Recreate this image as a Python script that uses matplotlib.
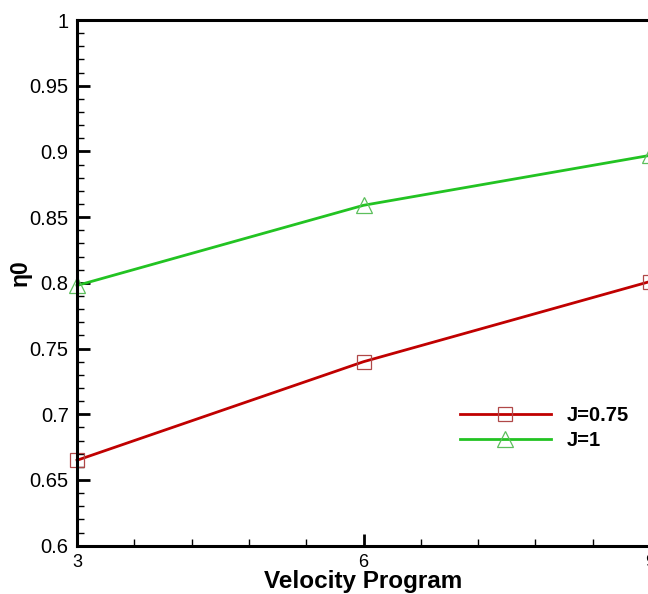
import matplotlib
matplotlib.use('Agg')
import matplotlib.pyplot as plt
from matplotlib.ticker import MultipleLocator, FixedLocator

plt.rcParams['font.family'] = ['Liberation Sans', 'DejaVu Sans']

# data
velocity_program = [3, 6, 9]
eta_j075 = [0.665, 0.740, 0.801]
eta_j1 = [0.798, 0.859, 0.897]
y_ticks = [0.6, 0.65, 0.7, 0.75, 0.8, 0.85, 0.9, 0.95, 1.0]
y_tick_labels = ['0.6', '0.65', '0.7', '0.75', '0.8', '0.85', '0.9', '0.95', '1']

W, H = 648, 594
fig = plt.figure(figsize=(W / 100, H / 100), dpi=100)

# axes box in pixels (right side runs past the image edge)
x0, x1, ytop, ybot = 77, 650, 20, 545.7
ax = fig.add_axes([x0 / W, 1 - ybot / H, (x1 - x0) / W, (ybot - ytop) / H])

ax.plot(velocity_program, eta_j075, color='#c00000', lw=2.0,
        marker='s', ms=10, mfc='none', mec='#b04848', mew=0.9,
        label='J=0.75', clip_on=False)
ax.plot(velocity_program, eta_j1, color='#22c322', lw=2.0,
        marker='^', ms=11, mfc='none', mec='#5cbf5c', mew=0.9,
        label='J=1', clip_on=False)

ax.set_xlim(3, 9)
ax.set_ylim(0.6, 1.0)
ax.xaxis.set_major_locator(FixedLocator(velocity_program))
ax.xaxis.set_minor_locator(MultipleLocator(0.6))
ax.set_yticks(y_ticks)
ax.set_yticklabels(y_tick_labels)
ax.yaxis.set_minor_locator(MultipleLocator(0.01))

for s in ax.spines.values():
    s.set_linewidth(2.2)
ax.tick_params(which='major', direction='in', length=9, width=2.0,
               top=False, right=False)
ax.tick_params(which='minor', direction='in', length=5, width=1.0,
               top=False, right=False)
ax.tick_params(axis='y', which='major', labelsize=14.5, pad=6)
ax.tick_params(axis='x', which='major', labelsize=13, pad=6)

ax.set_xlabel('Velocity Program', fontsize=17.5, fontweight='bold')
ax.xaxis.label.set_verticalalignment('baseline')
ax.xaxis.set_label_coords((363 - x0) / (x1 - x0), -(588 - ybot) / (ybot - ytop))
ax.set_ylabel('η0', fontsize=16.5, fontweight='bold')
ax.yaxis.label.set_verticalalignment('center')
ax.yaxis.set_label_coords(-(x0 - 20) / (x1 - x0), (ybot - 273) / (ybot - ytop))

fig.legend(loc='center left', bbox_to_anchor=(460 / W, 1 - 428 / H),
           frameon=False, borderpad=0, borderaxespad=0,
           handlelength=4.5, handletextpad=0.8, labelspacing=0.3,
           prop={'size': 14.5, 'weight': 'bold'})

fig.savefig('out.png', dpi=100)
